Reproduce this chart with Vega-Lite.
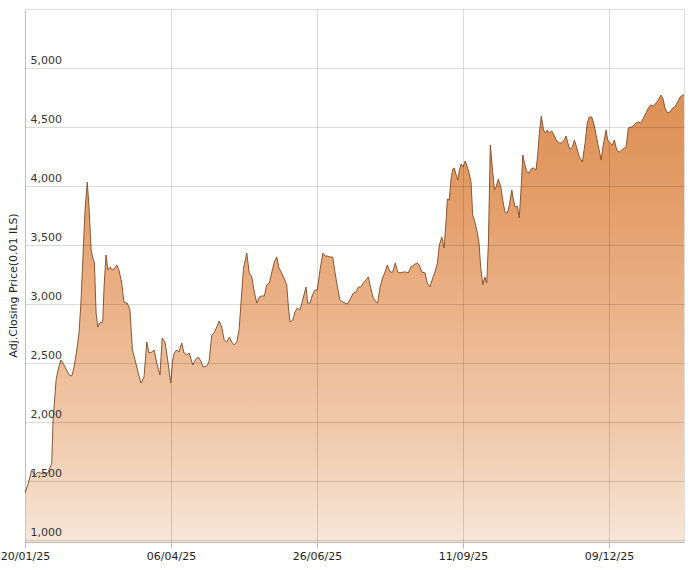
{
  "$schema": "https://vega.github.io/schema/vega-lite/v6.json",
  "width": 659,
  "height": 533,
  "autosize": {"type": "none"},
  "padding": {"left": 25, "top": 9, "right": 8, "bottom": 28},
  "background": "white",
  "config": {
    "view": {"stroke": "#dcdcdc", "strokeWidth": 1},
    "font": "DejaVu Sans"
  },
  "data": {"values": [
    {"t":0,"p":1400},{"t":1.2,"p":1480},{"t":2.4,"p":1590},{"t":3.6,"p":1550},{"t":4.7,"p":1575},{"t":6.5,"p":1560},{"t":8.3,"p":1570},{"t":9.7,"p":1650},{"t":10.2,"p":2020},{"t":11.3,"p":2360},{"t":12.0,"p":2440},{"t":13.0,"p":2525},{"t":13.8,"p":2500},{"t":15.1,"p":2440},{"t":16.0,"p":2400},{"t":17.0,"p":2390},{"t":17.8,"p":2465},{"t":18.8,"p":2610},{"t":19.6,"p":2755},{"t":20.3,"p":3008},{"t":21.1,"p":3432},{"t":21.8,"p":3797},{"t":22.6,"p":4034},{"t":23.3,"p":3797},{"t":24.0,"p":3458},{"t":24.6,"p":3390},{"t":25.2,"p":3348},{"t":25.8,"p":2924},{"t":26.4,"p":2805},{"t":27.2,"p":2839},{"t":28.2,"p":2847},{"t":28.7,"p":3144},{"t":29.4,"p":3415},{"t":30.1,"p":3288},{"t":30.9,"p":3314},{"t":31.6,"p":3288},{"t":32.3,"p":3297},{"t":33.3,"p":3330},{"t":34.1,"p":3288},{"t":35.1,"p":3178},{"t":35.9,"p":3017},{"t":37.1,"p":3008},{"t":38.1,"p":2950},{"t":39.0,"p":2610},{"t":39.9,"p":2530},{"t":41.1,"p":2415},{"t":42.1,"p":2330},{"t":43.2,"p":2381},{"t":44.2,"p":2678},{"t":45.0,"p":2585},{"t":46.0,"p":2593},{"t":46.9,"p":2610},{"t":47.8,"p":2500},{"t":49.0,"p":2398},{"t":49.8,"p":2712},{"t":50.8,"p":2678},{"t":51.8,"p":2525},{"t":52.4,"p":2415},{"t":52.9,"p":2330},{"t":53.6,"p":2525},{"t":54.2,"p":2585},{"t":55.1,"p":2610},{"t":55.9,"p":2593},{"t":56.9,"p":2670},{"t":57.7,"p":2585},{"t":58.7,"p":2568},{"t":59.6,"p":2585},{"t":60.9,"p":2483},{"t":61.8,"p":2525},{"t":62.9,"p":2551},{"t":63.8,"p":2517},{"t":64.7,"p":2466},{"t":66.0,"p":2475},{"t":66.8,"p":2509},{"t":67.8,"p":2737},{"t":68.6,"p":2754},{"t":69.6,"p":2805},{"t":70.5,"p":2856},{"t":71.4,"p":2805},{"t":72.3,"p":2695},{"t":73.2,"p":2678},{"t":74.2,"p":2720},{"t":75.0,"p":2678},{"t":75.9,"p":2653},{"t":76.9,"p":2678},{"t":77.7,"p":2780},{"t":79.3,"p":3300},{"t":80.5,"p":3432},{"t":81.4,"p":3263},{"t":82.3,"p":3229},{"t":83.1,"p":3119},{"t":84.1,"p":3008},{"t":85.1,"p":3059},{"t":85.9,"p":3068},{"t":86.9,"p":3068},{"t":87.7,"p":3161},{"t":88.7,"p":3178},{"t":89.6,"p":3271},{"t":90.5,"p":3356},{"t":91.4,"p":3398},{"t":92.2,"p":3305},{"t":93.0,"p":3271},{"t":94.0,"p":3220},{"t":95.0,"p":3161},{"t":95.6,"p":2975},{"t":96.2,"p":2847},{"t":97.2,"p":2864},{"t":98.0,"p":2932},{"t":98.8,"p":2966},{"t":99.8,"p":2949},{"t":100.8,"p":3034},{"t":102.0,"p":3144},{"t":102.6,"p":3008},{"t":103.5,"p":3008},{"t":104.3,"p":3076},{"t":105.3,"p":3119},{"t":106.1,"p":3119},{"t":107.1,"p":3288},{"t":108.1,"p":3432},{"t":108.9,"p":3407},{"t":109.7,"p":3407},{"t":110.7,"p":3398},{"t":111.7,"p":3398},{"t":112.5,"p":3271},{"t":113.4,"p":3144},{"t":114.3,"p":3034},{"t":115.3,"p":3017},{"t":116.2,"p":3008},{"t":117.0,"p":3000},{"t":118.0,"p":3040},{"t":119.2,"p":3093},{"t":120.2,"p":3102},{"t":121.0,"p":3144},{"t":121.9,"p":3144},{"t":122.8,"p":3178},{"t":123.8,"p":3203},{"t":124.6,"p":3229},{"t":125.5,"p":3136},{"t":126.4,"p":3051},{"t":127.4,"p":3017},{"t":128.0,"p":3008},{"t":128.9,"p":3144},{"t":129.8,"p":3220},{"t":130.7,"p":3271},{"t":131.5,"p":3331},{"t":132.5,"p":3271},{"t":133.5,"p":3271},{"t":134.4,"p":3348},{"t":135.3,"p":3271},{"t":136.1,"p":3263},{"t":137.3,"p":3271},{"t":138.3,"p":3271},{"t":139.1,"p":3263},{"t":140.1,"p":3314},{"t":141.2,"p":3331},{"t":142.2,"p":3348},{"t":143.1,"p":3331},{"t":144.0,"p":3271},{"t":145.2,"p":3263},{"t":146.0,"p":3178},{"t":147.0,"p":3144},{"t":148.0,"p":3220},{"t":148.8,"p":3271},{"t":149.7,"p":3348},{"t":150.4,"p":3500},{"t":151.3,"p":3568},{"t":152.1,"p":3475},{"t":152.8,"p":3687},{"t":153.3,"p":3890},{"t":154.0,"p":3881},{"t":154.6,"p":4051},{"t":155.3,"p":4144},{"t":155.8,"p":4153},{"t":156.5,"p":4094},{"t":157.1,"p":4051},{"t":157.7,"p":4136},{"t":158.3,"p":4187},{"t":159.0,"p":4161},{"t":159.8,"p":4212},{"t":160.9,"p":4136},{"t":161.9,"p":4034},{"t":162.5,"p":3754},{"t":163.4,"p":3687},{"t":164.2,"p":3602},{"t":164.8,"p":3517},{"t":165.4,"p":3314},{"t":166.2,"p":3161},{"t":166.9,"p":3229},{"t":167.6,"p":3178},{"t":168.2,"p":3517},{"t":168.9,"p":4348},{"t":169.6,"p":4161},{"t":170.4,"p":3966},{"t":171.0,"p":3992},{"t":171.8,"p":4059},{"t":172.7,"p":3992},{"t":173.4,"p":3881},{"t":174.2,"p":3780},{"t":175.1,"p":3771},{"t":175.8,"p":3839},{"t":176.7,"p":3966},{"t":177.3,"p":3881},{"t":177.9,"p":3822},{"t":178.7,"p":3831},{"t":179.4,"p":3729},{"t":180.1,"p":3992},{"t":180.7,"p":4263},{"t":181.3,"p":4195},{"t":182.1,"p":4119},{"t":183.0,"p":4110},{"t":183.7,"p":4144},{"t":184.5,"p":4153},{"t":185.5,"p":4136},{"t":186.1,"p":4263},{"t":186.7,"p":4449},{"t":187.4,"p":4593},{"t":188.2,"p":4475},{"t":188.9,"p":4449},{"t":189.6,"p":4475},{"t":190.3,"p":4449},{"t":191.2,"p":4466},{"t":192.0,"p":4432},{"t":193.0,"p":4381},{"t":194.0,"p":4365},{"t":194.8,"p":4365},{"t":195.7,"p":4390},{"t":196.4,"p":4424},{"t":197.0,"p":4365},{"t":197.8,"p":4310},{"t":198.7,"p":4331},{"t":199.4,"p":4390},{"t":200.3,"p":4322},{"t":201.2,"p":4246},{"t":202.3,"p":4204},{"t":203.3,"p":4365},{"t":204.1,"p":4534},{"t":204.8,"p":4585},{"t":205.7,"p":4585},{"t":206.6,"p":4517},{"t":207.5,"p":4407},{"t":208.4,"p":4305},{"t":209.1,"p":4220},{"t":209.9,"p":4347},{"t":210.9,"p":4475},{"t":211.5,"p":4390},{"t":212.4,"p":4365},{"t":213.2,"p":4347},{"t":213.9,"p":4390},{"t":214.8,"p":4305},{"t":215.7,"p":4288},{"t":216.6,"p":4305},{"t":217.5,"p":4322},{"t":218.2,"p":4331},{"t":219.0,"p":4492},{"t":220.0,"p":4500},{"t":220.8,"p":4509},{"t":221.8,"p":4534},{"t":222.6,"p":4543},{"t":223.5,"p":4534},{"t":224.5,"p":4576},{"t":225.4,"p":4619},{"t":226.3,"p":4661},{"t":227.1,"p":4687},{"t":228.1,"p":4678},{"t":229.1,"p":4704},{"t":229.9,"p":4729},{"t":230.8,"p":4771},{"t":231.5,"p":4746},{"t":232.3,"p":4661},{"t":233.2,"p":4619},{"t":234.1,"p":4627},{"t":235.1,"p":4661},{"t":235.9,"p":4670},{"t":236.9,"p":4712},{"t":237.8,"p":4754},{"t":238.8,"p":4771},{"t":239.2,"p":4771}
  ]},
  "mark": {
    "type": "area",
    "opacity": 1,
    "fillOpacity": 1,
    "line": {"color": "#8a5634", "strokeWidth": 1},
    "color": {
      "gradient": "linear",
      "x1": 0, "y1": 0, "x2": 0, "y2": 1,
      "stops": [
        {"offset": 0, "color": "#dd9055"},
        {"offset": 0.23, "color": "#e39d68"},
        {"offset": 0.46, "color": "#eab186"},
        {"offset": 0.79, "color": "#f1cdb1"},
        {"offset": 1, "color": "#f7e6d8"}
      ]
    }
  },
  "encoding": {
    "x": {
      "field": "t",
      "type": "quantitative",
      "scale": {"domain": [0, 239.2], "nice": false, "zero": false},
      "axis": {
        "values": [0, 53, 106, 159, 212],
        "labelExpr": "datum.value==0?'20/01/25':datum.value==53?'06/04/25':datum.value==106?'26/06/25':datum.value==159?'11/09/25':'09/12/25'",
        "title": null,
        "grid": true,
        "gridColor": "#000000",
        "gridOpacity": 0.14,
        "gridWidth": 1,
        "domainColor": "#b8b8b8",
        "tickColor": "#b8b8b8",
        "tickSize": 6,
        "labelFlush": false,
        "labelFontSize": 11,
        "labelColor": "#222222",
        "labelPadding": 2,
        "zindex": 1
      }
    },
    "y": {
      "field": "p",
      "type": "quantitative",
      "scale": {"domain": [983, 5500], "nice": false, "zero": false},
      "axis": {
        "values": [1000, 1500, 2000, 2500, 3000, 3500, 4000, 4500, 5000],
        "format": ",d",
        "title": "Adj.Closing Price(0.01 ILS)",
        "titleFontSize": 11,
        "titleFontWeight": "normal",
        "titleColor": "#222222",
        "titleX": -12,
        "titleY": 276,
        "titleAngle": -90,
        "titleAlign": "center",
        "titleBaseline": "middle",
        "grid": true,
        "gridColor": "#000000",
        "gridOpacity": 0.14,
        "gridWidth": 1,
        "domain": false,
        "ticks": false,
        "tickSize": 0,
        "labelAlign": "left",
        "labelBaseline": "alphabetic",
        "labelPadding": -5,
        "labelOffset": -4,
        "labelFontSize": 11,
        "labelColor": "#333333",
        "zindex": 1
      }
    },
    "y2": {"datum": 983}
  }
}
